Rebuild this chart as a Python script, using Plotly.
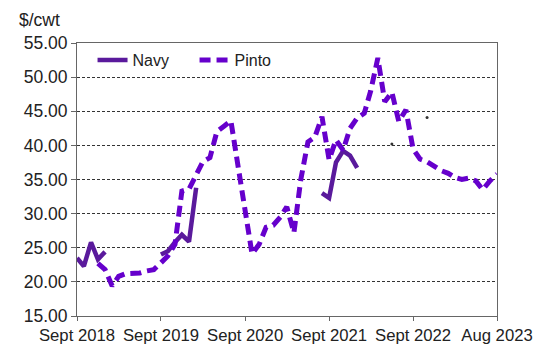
import pandas as pd
import plotly.graph_objects as go

# monthly prices, Sept 2018 .. Sept 2023 (None = no quote)
months = pd.date_range("2018-09-01", periods=61, freq="MS")

navy = [23.5, 22.3, 25.8, 23.3, 24.4,
        None, None, None, None, None, None, None,
        24.0, 24.5, 25.8, 26.9, 25.9, 33.8,
        None, None, None, None, None, None, None, None, None,
        None, None, None, None, None, None, None, None,
        33.0, 32.3, 37.5, 39.2, 38.5, 36.7,
        None, None, None, None, None, None, None, None, None, None,
        None, None, None, None, None, None, None, None, None, None]

pinto = [None, None, None, 22.7, 21.8, 19.4, 20.8, 21.2, 21.2, 21.3,
         21.6, 21.8, 22.8, 23.8, 25.5, 33.3, 33.6, 35.5, 37.6, 38.2,
         42.0, 42.8, 43.6, 37.0, 30.5, 24.1, 25.5, 28.0, 28.3, 29.5,
         31.0, 27.2, 35.0, 40.5, 41.2, 44.2, 37.9, 40.8, 39.3, 42.5,
         44.0, 44.7, 48.0, 52.8, 46.4, 47.8, 43.5, 45.2, 39.5, 38.0,
         37.6, 37.0, 36.3, 35.9, 35.3, 35.0, 35.2, 34.8, 33.5, 34.8,
         35.8]

# stray single points visible on the chart
dot_months = [months[45], months[50]]
dot_values = [40.2, 44.1]

tick_dates = [months[0], months[12], months[24], months[36], months[48],
              months[60]]
tick_text = ["Sept 2018", "Sept 2019", "Sept 2020", "Sept 2021",
             "Sept 2022", "Aug 2023"]

FONT = "Liberation Sans, Arial, sans-serif"

fig = go.Figure()

fig.add_trace(go.Scatter(
    x=months, y=navy,
    mode="lines",
    name="Navy",
    line=dict(color="#5A1A9C", width=4.5),
    connectgaps=False
))

fig.add_trace(go.Scatter(
    x=months, y=pinto,
    mode="lines",
    name="Pinto",
    line=dict(color="#6600CC", width=5, dash="11px,6px"),
    connectgaps=False
))

fig.add_trace(go.Scatter(
    x=dot_months, y=dot_values,
    mode="markers",
    showlegend=False,
    marker=dict(color="#333333", size=3)
))

fig.add_annotation(
    x=-0.143, y=1.085,
    xref="paper", yref="paper",
    xanchor="left", yanchor="middle",
    text="$/cwt",
    showarrow=False,
    font=dict(size=17.5, color="#222222", family=FONT)
)

# page body has an 8px margin, so the figure is sized/offset for that
fig.update_layout(
    width=537,
    height=339,
    margin=dict(l=69, r=48, t=35, b=31),
    plot_bgcolor="white",
    paper_bgcolor="white",
    font=dict(family=FONT, size=17, color="#222222"),
    legend=dict(
        orientation="h",
        x=0.037, y=1.0,
        xanchor="left", yanchor="top",
        bgcolor="rgba(0,0,0,0)",
        entrywidth=57,
        font=dict(size=16)
    ),
    xaxis=dict(
        type="date",
        range=[months[0], months[60]],
        tickvals=tick_dates,
        ticktext=tick_text,
        showgrid=False,
        showline=True,
        linecolor="#666666",
        mirror=True,
        ticks="outside",
        ticklen=4,
        tickcolor="#666666",
        tickfont=dict(size=16.7),
        automargin=False
    ),
    yaxis=dict(
        range=[15, 55],
        dtick=5,
        tickformat=".2f",
        showgrid=True,
        gridcolor="#333333",
        gridwidth=1,
        griddash="3px,2px",
        zeroline=False,
        showline=True,
        linecolor="#666666",
        mirror=True,
        ticks="outside",
        ticklen=5,
        tickcolor="#666666",
        tickfont=dict(size=17.5),
        automargin=False
    )
)

fig.write_html("out.html")
